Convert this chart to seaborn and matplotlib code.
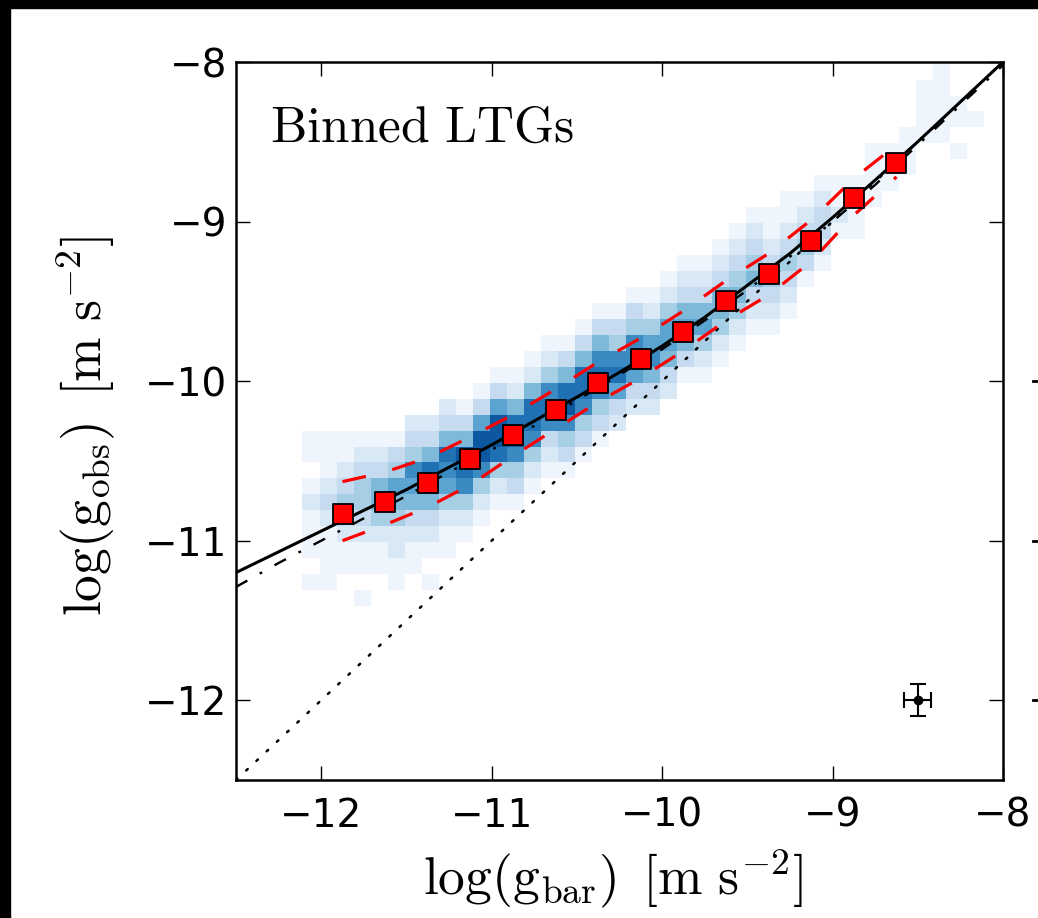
import numpy as np
import pandas as pd
import matplotlib
matplotlib.use("Agg")
import matplotlib.pyplot as plt
import seaborn as sns
from matplotlib.patches import Rectangle
from matplotlib.lines import Line2D

# === data ==================================================================
# binned LTGs (red squares) and their scatter envelope (red dashed)
bin_gbar = [-11.875, -11.625, -11.375, -11.125, -10.875, -10.625, -10.375,
            -10.125, -9.875, -9.625, -9.375, -9.125, -8.875, -8.625]
bin_gobs = [-10.83, -10.76, -10.64, -10.49, -10.34, -10.18, -10.01,
            -9.86, -9.69, -9.50, -9.33, -9.12, -8.85, -8.63]
bin_gobs_hi = [-10.63, -10.57, -10.48, -10.35, -10.21, -10.05, -9.88,
               -9.73, -9.56, -9.37, -9.20, -8.99, -8.73, -8.52]
bin_gobs_lo = [-11.00, -10.90, -10.79, -10.65, -10.47, -10.30, -10.13,
               -9.98, -9.81, -9.62, -9.46, -9.25, -8.96, -8.72]

# fitted relations (solid, dash-dot) and the line of unity (dotted)
fit_gbar = [-12.5, -12.25, -12.0, -11.75, -11.5, -11.25, -11.0, -10.75, -10.5,
            -10.25, -10.0, -9.75, -9.5, -9.25, -9.0, -8.75, -8.5, -8.25, -8.0]
fit_solid = [-11.20, -11.07, -10.94, -10.81, -10.68, -10.54, -10.40, -10.25,
             -10.10, -9.945, -9.78, -9.60, -9.40, -9.20, -8.975, -8.74,
             -8.50, -8.25, -8.00]
fit_dashdot = [-11.29, -11.14, -11.00, -10.86, -10.72, -10.57, -10.43, -10.28,
               -10.12, -9.96, -9.80, -9.62, -9.43, -9.22, -9.00, -8.77,
               -8.52, -8.27, -8.02]
unity = [-12.5, -8.0]

# typical error bar
err_gbar, err_gobs = -8.5, -12.0
err_x, err_y = 0.08, 0.10

# 2D histogram of the individual points, 0.1 dex cells.
# for each g_bar column: first g_obs row and the shade levels going upwards
hist_col = list(range(4, 44))
hist_row0 = [12, 12, 12, 11, 12, 12, 13, 12, 14, 15, 16, 17, 17, 18,
             19, 19, 20, 21, 21, 22, 22, 23, 24, 24, 25, 26, 27, 27, 28, 29,
             30, 31, 32, 33, 34, 35, 36, 37, 39, 41]
hist_levels = ["1011121011", "1111232111", "0112343211",
               "10112344321", "0112455321", "1122456431", "1123567432",
               "10123578532", "1124678532", "124789531", "124799631",
               "124899631", "134798521", "124788521", "123787421",
               "134798531", "134788531", "134787531", "023687431",
               "023677431", "023576421", "023566421", "013565321",
               "012465321", "012455321", "012454321", "012354321",
               "012343211", "012343211", "001343210", "001233210",
               "000121100", "001121000", "000111100", "000111000",
               "000111000", "000011110", "000111110", "1011", "1"]

# === histogram table ========================================================
edges = np.round(-12.51 + 0.1 * np.arange(47), 2)
centres = np.round(edges[:-1] + 0.05, 2)
rows = []
for col, r0, lev in zip(hist_col, hist_row0, hist_levels):
    for k, ch in enumerate(lev):
        if ch != "0" and r0 + k < len(centres):
            rows.append((centres[col], centres[r0 + k], int(ch)))
hist_df = pd.DataFrame(rows, columns=["gbar", "gobs", "level"])

# === figure =================================================================
plt.rcParams["mathtext.fontset"] = "cm"
plt.rcParams["font.family"] = "DejaVu Sans"

fig = plt.figure(figsize=(10.38, 9.18), dpi=100, facecolor="white")
ax = fig.add_axes([236 / 1038, 1 - 780 / 918, 767 / 1038, 718 / 918])

sns.histplot(data=hist_df, x="gbar", y="gobs", weights="level",
             bins=(edges, edges), cmap="Blues", vmin=0.5, vmax=10.5, ax=ax)

sns.lineplot(x=unity, y=unity, color="black", lw=1.8, estimator=None,
             linestyle=(0, (0.8, 4.8)), dash_capstyle="round", ax=ax)
sns.lineplot(x=fit_gbar, y=fit_dashdot, color="black", lw=1.7, estimator=None,
             linestyle=(0, (5.5, 6.0, 1.2, 6.0)), ax=ax)
sns.lineplot(x=fit_gbar, y=fit_solid, color="black", lw=2.2, estimator=None, ax=ax)

for env in (bin_gobs_hi, bin_gobs_lo):
    sns.lineplot(x=bin_gbar, y=env, color="red", lw=2.3, estimator=None,
                 linestyle=(0, (7.5, 8.5)), ax=ax)

sns.scatterplot(x=bin_gbar, y=bin_gobs, marker="s", s=210, color="red",
                edgecolor="black", linewidth=1.3, zorder=5, ax=ax)

ax.errorbar(err_gbar, err_gobs, xerr=err_x, yerr=err_y, fmt="o", color="black",
            ms=6, capsize=6, elinewidth=1.5, capthick=1.5, zorder=6)

ax.text(-12.30, -8.50, r"$\mathrm{Binned\ LTGs}$", fontsize=37, va="baseline")

ax.set_xlim(-12.5, -8)
ax.set_ylim(-12.5, -8)
ax.set_xticks([-12, -11, -10, -9, -8])
ax.set_yticks([-12, -11, -10, -9, -8])
ax.tick_params(direction="in", length=10, width=1.0, top=True, right=True,
               labelsize=28)
ax.tick_params(axis="x", pad=12)
ax.tick_params(axis="y", pad=6.5)
for sp in ax.spines.values():
    sp.set_linewidth(1.8)

ax.set_xlabel(r"$\log(\mathrm{g}_{\rm bar})\ \,[\mathrm{m\ s}^{-2}]$", fontsize=38.5)
ax.set_ylabel(r"$\log(\mathrm{g}_{\rm obs})\ \,[\mathrm{m\ s}^{-2}]$", fontsize=38.5)
ax.xaxis.set_label_coords(0.492, -0.093)
ax.yaxis.set_label_coords(-0.155, 0.493)

# dark frame of the original page and the edge of the next panel
fig.patches.append(Rectangle((0, 0), 10 / 1038, 1, transform=fig.transFigure,
                             color="black", zorder=0))
fig.patches.append(Rectangle((0, 1 - 8 / 918), 1, 8 / 918,
                             transform=fig.transFigure, color="black", zorder=0))
for yv in [-10, -11, -12]:
    yf = 1 - (62 + (-8 - yv) / 4.5 * 718) / 918
    fig.add_artist(Line2D([1033 / 1038, 1.0], [yf, yf], transform=fig.transFigure,
                          color="black", lw=2.0))

fig.savefig("out.png", dpi=100, facecolor=fig.get_facecolor())
